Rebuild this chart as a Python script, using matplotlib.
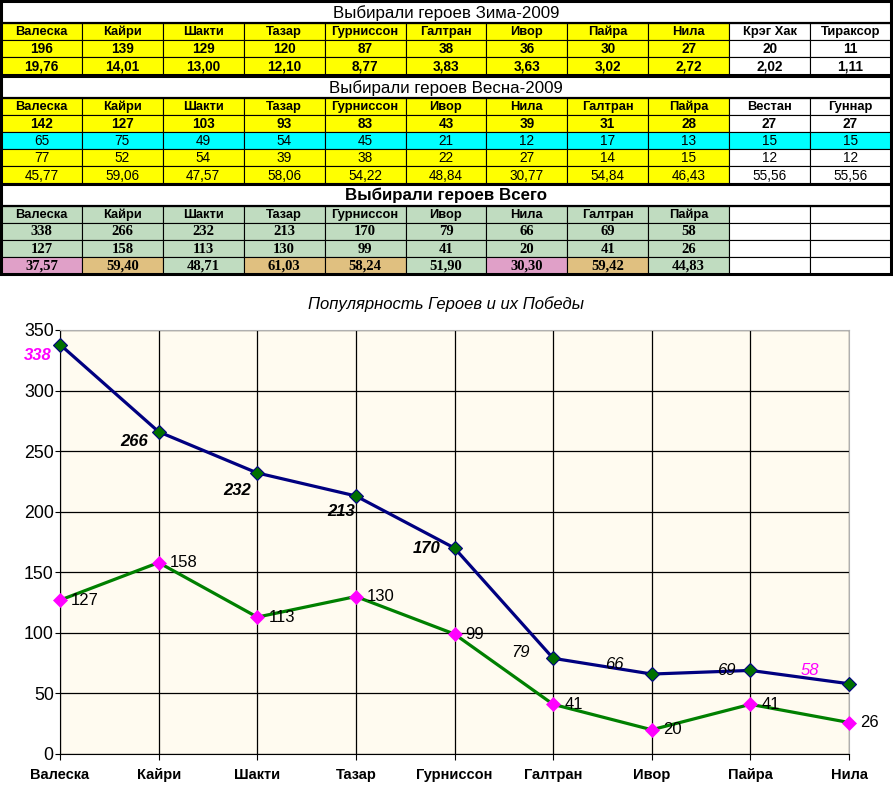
import matplotlib
matplotlib.use("Agg")
import matplotlib.pyplot as plt
from matplotlib.patches import Rectangle

plt.rcParams['font.family'] = ['Liberation Sans', 'DejaVu Sans']

# =====================================
# Data
# =====================================

# Зима-2009
winter_heroes = ["Валеска", "Кайри", "Шакти", "Тазар", "Гурниссон", "Галтран",
                 "Ивор", "Пайра", "Нила", "Крэг Хак", "Тираксор"]
winter_picks = [196, 139, 129, 120, 87, 38, 36, 30, 27, 20, 11]
winter_pct = [19.76, 14.01, 13.00, 12.10, 8.77, 3.83, 3.63, 3.02, 2.72, 2.02, 1.11]

# Весна-2009
spring_heroes = ["Валеска", "Кайри", "Шакти", "Тазар", "Гурниссон", "Ивор",
                 "Нила", "Галтран", "Пайра", "Вестан", "Гуннар"]
spring_picks = [142, 127, 103, 93, 83, 43, 39, 31, 28, 27, 27]
spring_wins = [65, 75, 49, 54, 45, 21, 12, 17, 13, 15, 15]
spring_losses = [77, 52, 54, 39, 38, 22, 27, 14, 15, 12, 12]
spring_pct = [45.77, 59.06, 47.57, 58.06, 54.22, 48.84, 30.77, 54.84, 46.43, 55.56, 55.56]

# Всего
total_heroes = ["Валеска", "Кайри", "Шакти", "Тазар", "Гурниссон", "Ивор",
                "Нила", "Галтран", "Пайра"]
total_picks = [338, 266, 232, 213, 170, 79, 66, 69, 58]
total_wins = [127, 158, 113, 130, 99, 41, 20, 41, 26]
total_pct = [37.57, 59.40, 48.71, 61.03, 58.24, 51.90, 30.30, 59.42, 44.83]

# chart
chart_labels = ["Валеска", "Кайри", "Шакти", "Тазар", "Гурниссон", "Галтран",
                "Ивор", "Пайра", "Нила"]

# =====================================
# Styles
# =====================================

YELLOW = "#FFFF00"
CYAN = "#00FFFF"
SAGE = "#C0DCC0"
PINK = "#E0A0C8"
TAN = "#E0C080"
WHITE = "#FFFFFF"

W, H = 893, 787
n_cols = 11
col_w = 80.9
x0 = 1
title_h = 22
row_h = 17.2


def fmt(v):
    return f"{v:.2f}".replace(".", ",")


def pct_color(v):
    if v < 40:
        return PINK
    if v > 55:
        return TAN
    return SAGE


fig = plt.figure(figsize=(W / 100, H / 100), dpi=100)
bg = fig.add_axes([0, 0, 1, 1])
bg.set_xlim(0, W)
bg.set_ylim(H, 0)
bg.axis("off")

sans_b = dict(family=["Liberation Sans", "DejaVu Sans"], weight="bold", size=9.8)
sans_h = dict(family=["Liberation Sans", "DejaVu Sans"], weight="bold", size=9.3)
sans_r = dict(family=["Liberation Sans", "DejaVu Sans"], weight="normal", size=9.8)
serif_b = dict(family=["Liberation Serif", "DejaVu Serif"], weight="bold", size=10.5)


def draw_block(top, title, rows, title_weight="normal"):
    # title row
    bg.add_patch(Rectangle((x0, top), col_w * n_cols, title_h,
                           facecolor=WHITE, edgecolor="black", lw=0.8))
    bg.text(x0 + col_w * n_cols / 2, top + title_h / 2 + 1, title,
            ha="center", va="center", fontsize=12.2, weight=title_weight)
    y = top + title_h
    for texts, colors, font in rows:
        for i in range(n_cols):
            bg.add_patch(Rectangle((x0 + i * col_w, y), col_w, row_h,
                                   facecolor=colors[i], edgecolor="black", lw=0.8))
            if i < len(texts):
                bg.text(x0 + (i + 0.5) * col_w, y + row_h / 2 + 0.5, texts[i],
                        ha="center", va="center", **font)
        y += row_h
    # heavy lines
    bg.plot([x0, x0 + col_w * n_cols], [top + title_h, top + title_h],
            color="black", lw=1.6)
    bg.add_patch(Rectangle((x0, top), col_w * n_cols, y - top,
                           facecolor="none", edgecolor="black", lw=2.2))
    return y


c9 = [YELLOW] * 9 + [WHITE] * 2

y = draw_block(1, "Выбирали героев Зима-2009", [
    (winter_heroes, c9, sans_h),
    ([str(v) for v in winter_picks], c9, sans_b),
    ([fmt(v) for v in winter_pct], c9, sans_b),
])

y = draw_block(y + 1, "Выбирали героев Весна-2009", [
    (spring_heroes, c9, sans_h),
    ([str(v) for v in spring_picks], c9, sans_b),
    ([str(v) for v in spring_wins], [CYAN] * 11, sans_r),
    ([str(v) for v in spring_losses], c9, sans_r),
    ([fmt(v) for v in spring_pct], c9, sans_r),
])

g9 = [SAGE] * 9 + [WHITE] * 2
y = draw_block(y, "Выбирали героев Всего", [
    (total_heroes, g9, sans_h),
    ([str(v) for v in total_picks], g9, serif_b),
    ([str(v) for v in total_wins], g9, serif_b),
    ([fmt(v) for v in total_pct], [pct_color(v) for v in total_pct] + [WHITE] * 2, serif_b),
], title_weight="bold")

# =====================================
# Chart
# =====================================

ax = fig.add_axes([60 / W, 1 - 754 / H, 789 / W, 424 / H])
ax.set_facecolor("#FFFBF0")

x = list(range(len(chart_labels)))

ax.plot(x, total_picks, color="#000080", lw=2.3, marker="D", ms=7,
        mfc="#007000", mec="#000080", mew=0.8, clip_on=False, zorder=4)
ax.plot(x, total_wins, color="#008000", lw=2.3, marker="D", ms=7.5,
        mfc="#FF00FF", mec="#FF00FF", mew=0.5, clip_on=False, zorder=3)

ax.set_xlim(0, len(chart_labels) - 1)
ax.set_ylim(0, 350)
ax.set_yticks(range(0, 351, 50))
ax.set_xticks(x)
ax.set_xticklabels(chart_labels, fontsize=10.5, weight="bold")
ax.tick_params(axis="y", labelsize=12.8, length=3.5, pad=1, width=0.8)
ax.tick_params(axis="x", length=4, pad=6, width=0.8)
ax.grid(color="black", lw=0.9)
ax.set_axisbelow(True)

for s in ["top", "right"]:
    ax.spines[s].set_color("#B0B0B0")
for s in ["left", "bottom"]:
    ax.spines[s].set_color("black")

# label offsets (pixels) for popularity series
pop_offsets = [(-22, -11), (-24, -10), (-20, -18), (-15, -16), (-28, 0),
               (-33, 6), (-37, 10), (-24, 0), (-39, 13)]
pop_colors = ["#FF00FF"] + ["black"] * 7 + ["#FF00FF"]
pop_weights = ["bold"] * 5 + ["normal"] * 4

for i, v in enumerate(total_picks):
    dx, dy = pop_offsets[i]
    ax.annotate(str(v), (i, v), xytext=(dx * 0.72, dy * 0.72),
                textcoords="offset points", ha="center", va="center",
                fontsize=12, style="italic", weight=pop_weights[i],
                color=pop_colors[i], zorder=5, annotation_clip=False)

for i, v in enumerate(total_wins):
    ax.annotate(str(v), (i, v), xytext=(8, 0), textcoords="offset points",
                ha="left", va="center", fontsize=12, zorder=5,
                annotation_clip=False)

fig.text(446 / W, 1 - 304 / H, "Популярность Героев и их Победы",
         ha="center", va="center", fontsize=12, style="italic")

fig.savefig("out.png", dpi=100)
